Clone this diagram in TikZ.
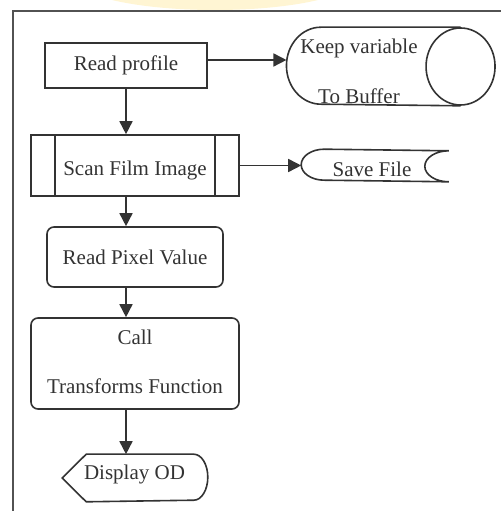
\documentclass[tikz,border=0pt]{standalone}
\usepackage{fontspec}
\setmainfont{Liberation Serif}
\usetikzlibrary{arrows.meta,calc}
\definecolor{ink}{HTML}{333333}
\definecolor{glow}{RGB}{255,242,200}
\begin{document}
\begin{tikzpicture}[x=1pt, y=1pt, line width=1.6pt, draw=ink, text=ink,
    font=\fontsize{21}{25}\selectfont,
    >={Triangle[length=13pt,width=13pt]},
    box/.style={draw, rectangle, inner sep=0pt},
    roundbox/.style={draw, rectangle, rounded corners=7pt, inner sep=0pt},
    blank/.style={rectangle, inner sep=0pt},
    flow/.style={->, ink}]
    \useasboundingbox (0,0) rectangle (501,511);
    % faint glow at the top edge
    \begin{scope}
        \clip (0,0) rectangle (501,511);
        \fill[glow, opacity=0.8] (215,532) ellipse[x radius=140pt, y radius=31pt];
    \end{scope}
    \draw[line width=1.8pt, draw=ink!85] (13,0) -- (13,500) -- (501,500);

    \node[box, minimum width=162, minimum height=45] (read) at (126,445.5) {Read profile};
    \node[blank, minimum width=207, minimum height=77] (keep) at (390.75,444.5) {};
    \node[box, minimum width=208, minimum height=61] (scan) at (135,345.5) {};
    \node[blank, minimum width=146, minimum height=31] (save) at (375,345.5) {};
    \node[roundbox, minimum width=176, minimum height=60] (pixel) at (135,254) {Read Pixel Value};
    \node[roundbox, minimum width=208, minimum height=91] (call) at (135,147.5) {};
    \node[blank, minimum width=144, minimum height=46] (disp) at (135,33) {};

    % buffer drum
    \draw ([xshift=-34.5]keep.east) ellipse[x radius=34.5pt, y radius=38.5pt];
    \draw ([xshift=-34.5]keep.north east) -- ([xshift=34.5]keep.north west)
        arc[start angle=90, end angle=270, x radius=34.5pt, y radius=38.5pt]
        -- ([xshift=-34.5]keep.south east);
    \node at (359,463) {Keep variable};
    \node at (359,415) {To Buffer};

    % predefined process bars
    \draw ([xshift=25]scan.north west) -- ([xshift=25]scan.south west);
    \draw ([xshift=-25]scan.north east) -- ([xshift=-25]scan.south east);
    \node at (135,341) {Scan Film Image};

    % stored data
    \draw ([xshift=23]save.north west)
        arc[start angle=90, end angle=270, x radius=23pt, y radius=15.5pt]
        -- (save.south east)
        arc[start angle=-90, end angle=-270, x radius=24pt, y radius=15.5pt]
        -- cycle;
    \node at (372,342) {Save File};

    \node at (135,174) {Call};
    \node at (135,125) {Transforms Function};

    % display
    \draw (disp.west) -- ([xshift=24]disp.north west) -- ([xshift=-14]disp.north east)
        arc[start angle=90, end angle=-90, x radius=14pt, y radius=23pt]
        -- ([xshift=24]disp.south west) -- cycle;
    \node at (134.5,37) {Display OD};

    \draw[flow] ([yshift=5.5]read.east) -- ([yshift=5.5]read.east -| keep.west);
    \draw[flow] (scan.east) -- (save.west);
    \draw[flow] (read.south) -- (read.south |- scan.north);
    \draw[flow] (read.south |- scan.south) -- (read.south |- pixel.north);
    \draw[flow] (read.south |- pixel.south) -- (read.south |- call.north);
    \draw[flow] (read.south |- call.south) -- (read.south |- disp.north);
\end{tikzpicture}
\end{document}
